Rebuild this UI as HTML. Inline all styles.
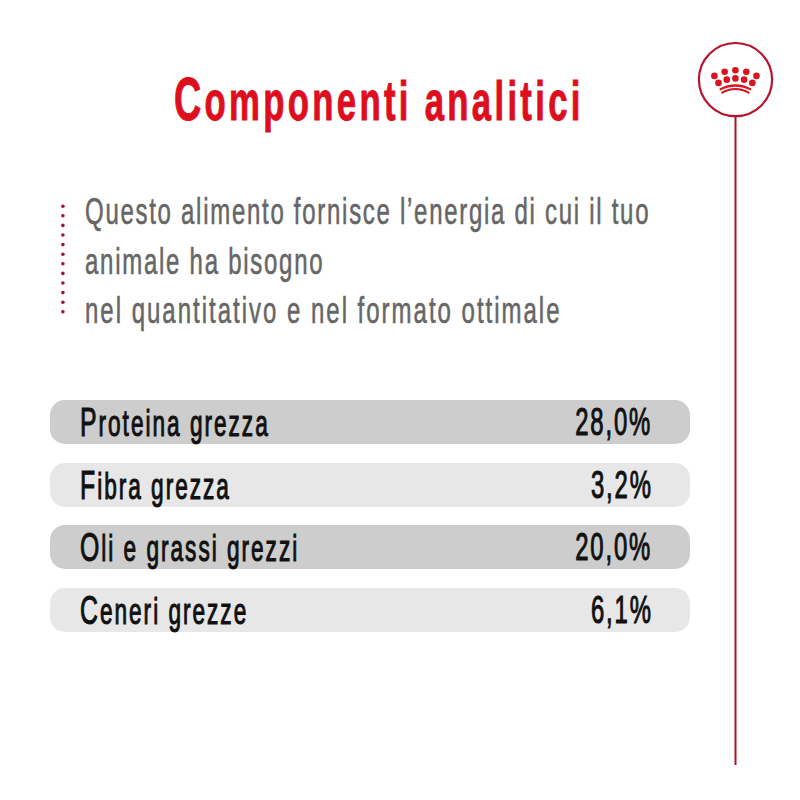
<!DOCTYPE html>
<html><head><meta charset="utf-8">
<style>
html,body{margin:0;padding:0;background:#fff;}
body{width:800px;height:800px;position:relative;overflow:hidden;font-family:"Liberation Sans",sans-serif;}
.t{position:absolute;white-space:nowrap;transform-origin:0 0;line-height:1;}
#title{left:174px;top:68.5px;font-size:62px;font-weight:bold;color:#dd0f1f;transform:scale(0.56,0.9);letter-spacing:5.9px;-webkit-text-stroke:1.1px #dd0f1f;}
#title .cap{font-size:67.5px;}
.p{left:85px;font-size:37.5px;color:#666;-webkit-text-stroke:0.6px #666;}
.row{position:absolute;left:50px;width:640px;height:44px;border-radius:15px;}
.dark{background:#cdcdcd;}
.light{background:#e7e7e7;}
.lab{position:absolute;left:30px;top:1.9px;height:40px;-webkit-text-stroke:1.1px #111;font-size:36.5px;color:#111;white-space:nowrap;transform-origin:0 0;transform:scaleX(0.62);line-height:40px;letter-spacing:3.2px;}
.lab .cap{font-size:40px;}
.val{position:absolute;right:37.6px;top:1.9px;height:40px;-webkit-text-stroke:1.1px #111;font-size:38.5px;color:#111;white-space:nowrap;transform-origin:100% 0;transform:scaleX(0.62);line-height:40px;letter-spacing:3px;}
</style></head><body>
<div id="title" class="t"><span class="cap">C</span>omponenti analitici</div>

<svg style="position:absolute;left:0;top:0" width="800" height="800">
  <g fill="#a80f2a">
    <circle cx="62.9" cy="206.2" r="1.8"/><circle cx="62.9" cy="215.8" r="1.8"/>
    <circle cx="62.9" cy="225.4" r="1.8"/><circle cx="62.9" cy="235" r="1.8"/>
    <circle cx="62.9" cy="244.6" r="1.8"/><circle cx="62.9" cy="254.2" r="1.8"/>
    <circle cx="62.9" cy="263.8" r="1.8"/><circle cx="62.9" cy="273.4" r="1.8"/>
    <circle cx="62.9" cy="283" r="1.8"/><circle cx="62.9" cy="292.6" r="1.8"/>
    <circle cx="62.9" cy="302.2" r="1.8"/><circle cx="62.9" cy="311.8" r="1.8"/>
  </g>
  <circle cx="735.5" cy="79.6" r="36.6" fill="none" stroke="#b8112b" stroke-width="2.2"/>
  <line x1="735.5" y1="116" x2="735.5" y2="765" stroke="#b0112a" stroke-width="2"/>
  <g fill="#d9141e">
    <circle cx="714.4" cy="75.9" r="3.3"/><circle cx="724.65" cy="71.8" r="3.3"/>
    <circle cx="735.4" cy="70.3" r="3.3"/><circle cx="746.3" cy="71.8" r="3.3"/>
    <circle cx="756.5" cy="75.9" r="3.3"/>
    <circle cx="718.5" cy="82.9" r="3.3"/><circle cx="726.75" cy="79.65" r="3.3"/>
    <circle cx="735.4" cy="78.4" r="3.3"/><circle cx="744.1" cy="79.65" r="3.3"/>
    <circle cx="752.3" cy="82.9" r="3.3"/>
    <path d="M719.4 88.6 Q735.4 79.8 751.4 88.6 L750.9 90.5 Q735.4 82.8 719.9 90.5 Z"/>
    <path d="M721 92.3 Q735.4 83.9 749.8 92.3 L749 93.9 Q735.4 86.2 721.8 93.9 Z"/>
  </g>
</svg>

<div class="t p" style="top:193px;transform:scaleX(0.64);letter-spacing:2.68px">Questo alimento fornisce l’energia di cui il tuo</div>
<div class="t p" style="top:242.5px;transform:scaleX(0.64);letter-spacing:2.71px">animale ha bisogno</div>
<div class="t p" style="top:292px;transform:scaleX(0.64);letter-spacing:3.11px">nel quantitativo e nel formato ottimale</div>

<div class="row dark" style="top:400px"><div class="lab"><span class="cap">P</span>roteina grezza</div><div class="val">28,0%</div></div>
<div class="row light" style="top:463px"><div class="lab"><span class="cap">F</span>ibra grezza</div><div class="val">3,2%</div></div>
<div class="row dark" style="top:525px"><div class="lab"><span class="cap">O</span>li e grassi grezzi</div><div class="val">20,0%</div></div>
<div class="row light" style="top:588px"><div class="lab"><span class="cap">C</span>eneri grezze</div><div class="val">6,1%</div></div>
</body></html>
